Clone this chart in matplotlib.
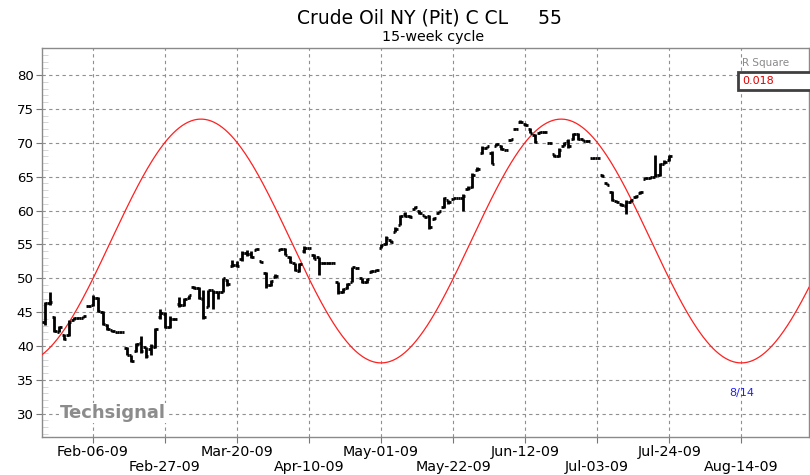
import numpy as np
import pandas as pd
import matplotlib
matplotlib.use("Agg")
import matplotlib.pyplot as plt
from matplotlib.patches import Rectangle

# daily bars on a weekday axis, Jan-23-09 .. Jul-24-09 (holidays carried flat)
start_date = "2009-01-23"
opens = [43.5, 46.3, 44.3, 42.1, 41.6, 41.6, 43.9, 44.2, 44.2, 45.9,
         46.0, 47.1, 45.0, 43.1, 42.3, 42.1, 42.0, 39.7, 38.6, 39.2,
         40.4, 39.8, 39.5, 39.8, 44.3, 44.7, 42.8, 44.0, 46.2, 46.0,
         47.1, 48.7, 48.6, 47.0, 45.8, 48.2, 47.9, 48.0, 49.8, 51.8,
         52.0, 52.8, 53.8, 53.6, 54.2, 52.5, 50.8, 49.0, 50.2, 54.2,
         54.3, 53.2, 52.2, 51.0, 54.0, 54.5, 53.5, 53.1, 52.3, 52.2,
         52.3, 49.4, 48.0, 48.5, 49.5, 51.5, 50.0, 49.4, 50.9, 51.1,
         54.5, 55.0, 55.6, 56.9, 57.9, 59.5, 59.2, 60.3, 60.0, 59.3,
         59.2, 58.7, 59.7, 60.5, 61.5, 61.7, 61.8, 61.8, 63.2, 63.5,
         66.0, 68.5, 69.3, 68.5, 69.6, 69.6, 69.0, 70.4, 72.1, 73.0,
         72.8, 72.0, 71.2, 71.5, 71.6, 70.0, 68.3, 68.0, 69.6, 70.3,
         70.6, 71.3, 70.5, 70.3, 67.7, 67.7, 65.3, 64.0, 62.8, 61.4,
         61.0, 60.6, 61.3, 62.0, 62.6, 64.7, 64.8, 65.0, 65.3, 66.9,
         67.4]
highs = [46.5, 48.0, 44.4, 42.9, 41.7, 43.8, 44.3, 44.3, 44.5, 46.0,
         47.5, 47.2, 45.1, 43.2, 42.4, 42.1, 42.0, 39.8, 38.7, 40.4,
         41.4, 39.9, 40.3, 42.7, 45.5, 45.0, 44.5, 44.1, 47.2, 47.1,
         47.6, 48.9, 48.7, 48.2, 48.3, 48.3, 48.0, 50.0, 49.9, 52.7,
         52.6, 54.0, 54.2, 54.0, 54.4, 52.5, 50.9, 49.8, 50.6, 54.5,
         54.4, 53.3, 52.3, 52.2, 54.7, 54.5, 53.6, 53.2, 52.4, 52.4,
         52.4, 49.5, 48.6, 49.3, 51.7, 51.6, 50.1, 50.0, 51.2, 51.3,
         55.0, 56.2, 55.7, 57.5, 59.4, 59.8, 59.4, 60.7, 60.1, 59.4,
         59.3, 59.0, 60.0, 62.0, 61.6, 61.9, 61.8, 62.4, 63.6, 65.5,
         66.4, 69.5, 69.6, 68.8, 69.9, 69.7, 69.1, 70.6, 72.2, 73.3,
         72.9, 72.2, 71.3, 71.7, 71.7, 70.1, 68.4, 69.2, 70.1, 70.5,
         71.5, 71.5, 70.6, 70.4, 67.8, 67.7, 65.4, 64.1, 62.9, 61.5,
         61.1, 61.5, 61.7, 62.3, 62.9, 64.9, 65.0, 68.2, 67.0, 67.4,
         68.2]
lows = [43.1, 46.0, 42.1, 42.0, 40.9, 41.5, 43.8, 44.1, 44.1, 45.8,
        45.9, 45.0, 43.1, 42.4, 42.1, 41.9, 42.0, 38.6, 37.7, 39.1,
        39.0, 38.2, 38.6, 39.7, 44.0, 42.7, 42.7, 43.9, 45.7, 45.9,
        47.0, 48.4, 47.0, 44.0, 45.7, 45.5, 47.0, 47.9, 48.9, 51.7,
        51.6, 52.6, 53.3, 53.0, 54.1, 52.3, 48.6, 48.9, 50.0, 54.1,
        53.4, 52.3, 51.0, 50.9, 53.8, 54.5, 52.8, 50.5, 52.1, 52.1,
        52.2, 47.7, 47.8, 48.4, 49.4, 51.4, 49.3, 49.3, 50.8, 51.0,
        54.4, 54.9, 55.2, 56.8, 57.8, 59.0, 58.9, 60.2, 59.5, 59.0,
        57.3, 58.6, 59.6, 60.4, 61.0, 61.6, 61.8, 60.0, 63.1, 63.3,
        65.9, 68.4, 69.2, 66.8, 69.5, 69.0, 68.9, 70.3, 72.0, 72.9,
        72.5, 71.4, 70.0, 71.4, 71.5, 69.9, 67.9, 67.9, 69.5, 69.3,
        70.4, 70.4, 70.2, 70.1, 67.6, 67.7, 65.0, 63.7, 61.4, 61.2,
        60.7, 59.5, 61.2, 61.9, 62.5, 64.6, 64.7, 64.9, 65.1, 66.8,
        67.3]
closes = [46.3, 46.5, 42.2, 42.8, 41.0, 43.5, 44.2, 44.2, 44.4, 45.9,
          47.1, 45.2, 43.3, 42.5, 42.2, 42.0, 42.0, 38.7, 37.8, 40.3,
          39.3, 38.5, 40.0, 42.5, 44.8, 42.8, 44.0, 44.0, 46.0, 47.0,
          47.5, 48.6, 47.1, 44.3, 48.2, 47.9, 47.9, 50.0, 49.1, 52.0,
          51.8, 53.8, 53.6, 53.1, 54.3, 52.4, 49.0, 49.6, 50.4, 54.3,
          53.5, 52.4, 51.2, 52.1, 54.5, 54.5, 52.9, 52.3, 52.2, 52.3,
          52.3, 48.0, 48.4, 49.2, 51.6, 51.5, 49.4, 49.9, 51.1, 51.2,
          54.9, 56.0, 55.3, 57.3, 59.2, 59.2, 59.1, 60.5, 59.6, 59.1,
          57.5, 58.9, 59.9, 61.8, 61.2, 61.8, 61.8, 62.2, 63.4, 65.3,
          66.2, 69.2, 69.5, 66.9, 69.8, 69.1, 69.0, 70.5, 72.1, 73.1,
          72.6, 71.5, 70.1, 71.6, 71.6, 70.0, 68.0, 69.0, 70.0, 69.5,
          71.3, 70.5, 70.3, 70.2, 67.7, 67.7, 65.1, 63.8, 61.5, 61.3,
          60.8, 61.3, 61.5, 62.2, 62.8, 64.8, 64.9, 65.3, 66.8, 67.2,
          68.0]

tick_dates = ["2009-02-06", "2009-02-27", "2009-03-20", "2009-04-10", "2009-05-01",
              "2009-05-22", "2009-06-12", "2009-07-03", "2009-07-24", "2009-08-14"]
tick_labels = ["Feb-06-09", "Feb-27-09", "Mar-20-09", "Apr-10-09", "May-01-09",
               "May-22-09", "Jun-12-09", "Jul-03-09", "Jul-24-09", "Aug-14-09"]

# 15-week cycle
cycle_weeks = 15
cycle_low_date = "2009-05-01"
cycle_low = 37.5
cycle_high = 73.5

title = "Crude Oil NY (Pit) C CL     55"
subtitle = "15-week cycle"
r_square = "0.018"
next_low = "8/14"

W, H = 810, 475
fig = plt.figure(figsize=(W / 100, H / 100), dpi=100)
ax = fig.add_axes([42 / W, 1 - 437 / H, (809 - 42) / W, (437 - 48) / H])

axis_days = pd.bdate_range("2009-01-19", "2009-09-30")
dates = pd.bdate_range(start_date, periods=len(closes))
x = axis_days.get_indexer(dates)
tick_pos = axis_days.get_indexer(pd.to_datetime(tick_dates))

x0 = x[0] - 0.6
x1 = x[0] + 159.1
ax.set_xlim(x0, x1)
ax.set_ylim(26.56, 84.0)

# red cycle
period = cycle_weeks * 5
low_pos = axis_days.get_loc(pd.Timestamp(cycle_low_date))
xs = np.linspace(x0, x1, 800)
mid = (cycle_low + cycle_high) / 2
amp = (cycle_high - cycle_low) / 2
ax.plot(xs, mid - amp * np.cos(2 * np.pi * (xs - low_pos) / period),
        color="#ff2020", lw=0.9, zorder=3)

# OHLC bars
o = np.array(opens); h = np.array(highs); l = np.array(lows); c = np.array(closes)
ax.vlines(x, l, h, color="black", lw=2.0, zorder=4)
ax.hlines(o, x - 0.5, x, color="black", lw=2.0, zorder=4)
ax.hlines(c, x, x + 0.5, color="black", lw=2.0, zorder=4)

# grid / ticks
ax.set_yticks(np.arange(30, 81, 5))
ax.set_yticks(np.arange(27, 84, 1), minor=True)
ax.set_xticks(tick_pos)
ax.set_xticklabels([t if k % 2 == 0 else "\n" + t for k, t in enumerate(tick_labels)])
ax.grid(True, which="major", color="#909090", lw=0.8, linestyle=(0, (3, 3)))
ax.tick_params(axis="both", which="major", direction="out", length=4,
               color="#777777", labelsize=9.5, pad=2)
ax.tick_params(axis="x", labelsize=10.3, pad=2)
ax.tick_params(axis="y", which="minor", direction="in", length=4, color="#d0d0d0")
ax.tick_params(axis="x", which="minor", length=0)
for lab in ax.get_xticklabels():
    lab.set_linespacing(1.1)
for s in ax.spines.values():
    s.set_color("#8a8a8a")
    s.set_linewidth(1.0)

# header texts
fig.text(429 / W, 1 - 18 / H, title, ha="center", va="center", fontsize=13.5)
fig.text(433 / W, 1 - 37 / H, subtitle, ha="center", va="center", fontsize=10.3)

# R square box
fig.text(742 / W, 1 - 63 / H, "R Square", ha="left", va="center", fontsize=7.5, color="#8a8a8a")
fig.patches.append(Rectangle((738 / W, 1 - 90 / H), 80 / W, 18 / H, transform=fig.transFigure,
                             facecolor="white", edgecolor="#404040", lw=2.0, zorder=5))
fig.text(742 / W, 1 - 81 / H, r_square, ha="left", va="center", fontsize=8, color="#e00000", zorder=6)

fig.text(60 / W, 1 - 413 / H, "Techsignal", ha="left", va="center", fontsize=13,
         fontweight="bold", color="#8c8c8c",
         bbox=dict(facecolor="white", edgecolor="none", pad=1))
fig.text(742 / W, 1 - 393 / H, next_low, ha="center", va="center", fontsize=8, color="#2020ff")

fig.savefig("out.png", dpi=100)
